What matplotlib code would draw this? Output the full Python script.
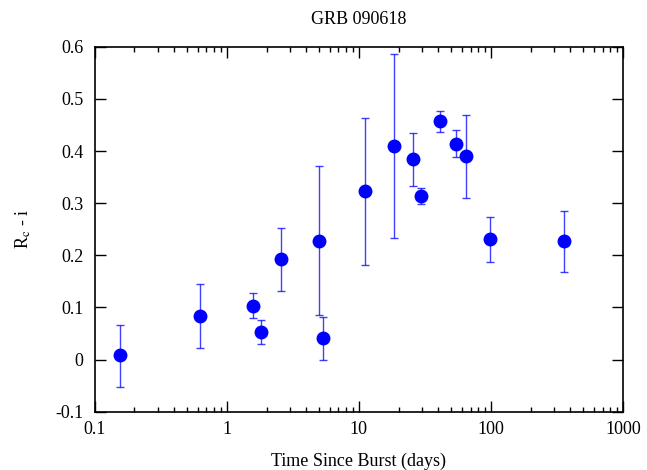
import matplotlib
matplotlib.use("Agg")
import matplotlib.pyplot as plt
import numpy as np

# time since burst (days), Rc - i colour, and asymmetric errors
days = [0.155, 0.63, 1.59, 1.80, 2.58, 5.0, 5.36, 11.1, 18.6, 25.9, 29.4,
        41.1, 54.1, 64.4, 98.9, 359.0]
color_ri = [0.008, 0.083, 0.103, 0.053, 0.192, 0.227, 0.041, 0.323, 0.409,
            0.384, 0.314, 0.457, 0.413, 0.390, 0.231, 0.227]
err_hi = [0.067, 0.144, 0.127, 0.076, 0.253, 0.371, 0.082, 0.463, 0.586,
          0.434, 0.330, 0.477, 0.440, 0.469, 0.274, 0.285]
err_lo = [-0.052, 0.023, 0.079, 0.030, 0.131, 0.085, -0.001, 0.182, 0.233,
          0.333, 0.299, 0.437, 0.388, 0.309, 0.188, 0.167]

x_ticks = [0.1, 1, 10, 100, 1000]
x_tick_labels = ["0.1", "1", "10", "100", "1000"]
y_ticks = [-0.1, 0, 0.1, 0.2, 0.3, 0.4, 0.5, 0.6]
y_tick_labels = ["-0.1", "0", "0.1", "0.2", "0.3", "0.4", "0.5", "0.6"]

plt.rcParams["font.family"] = ["Liberation Serif", "DejaVu Serif"]
plt.rcParams["mathtext.fontset"] = "stix"

fig = plt.figure(figsize=(6.47, 4.70), dpi=100)
ax = fig.add_axes([0.1464, 0.124, 0.8166, 0.7766])

y = np.array(color_ri)
yerr = [y - np.array(err_lo), np.array(err_hi) - y]

ax.errorbar(days, y, yerr=yerr, fmt="none", ecolor="blue", elinewidth=1.0,
            capsize=3, capthick=1.0, alpha=0.75)
ax.plot(days, y, "o", color="blue", markersize=9, zorder=3)

ax.set_xscale("log")
ax.set_xlim(0.1, 1000)
ax.set_ylim(-0.1, 0.6)
ax.set_xticks(x_ticks)
ax.set_xticklabels(x_tick_labels)
ax.set_yticks(y_ticks)
ax.set_yticklabels(y_tick_labels)

ax.tick_params(which="both", direction="in", top=True, right=True,
               labelsize=13, width=1.0)
ax.tick_params(which="major", length=8)
ax.tick_params(axis="x", which="major", pad=7)
ax.tick_params(axis="y", which="major", pad=8)
ax.tick_params(which="minor", length=3.6)
for s in ax.spines.values():
    s.set_linewidth(1.2)

ax.set_xlabel("Time Since Burst (days)", fontsize=13, labelpad=10)
ax.set_ylabel(r"R$_\mathrm{c}$ - i", fontsize=13, labelpad=16)
ax.set_title("GRB 090618", fontsize=13, pad=16)

fig.savefig("out.png", dpi=100)
